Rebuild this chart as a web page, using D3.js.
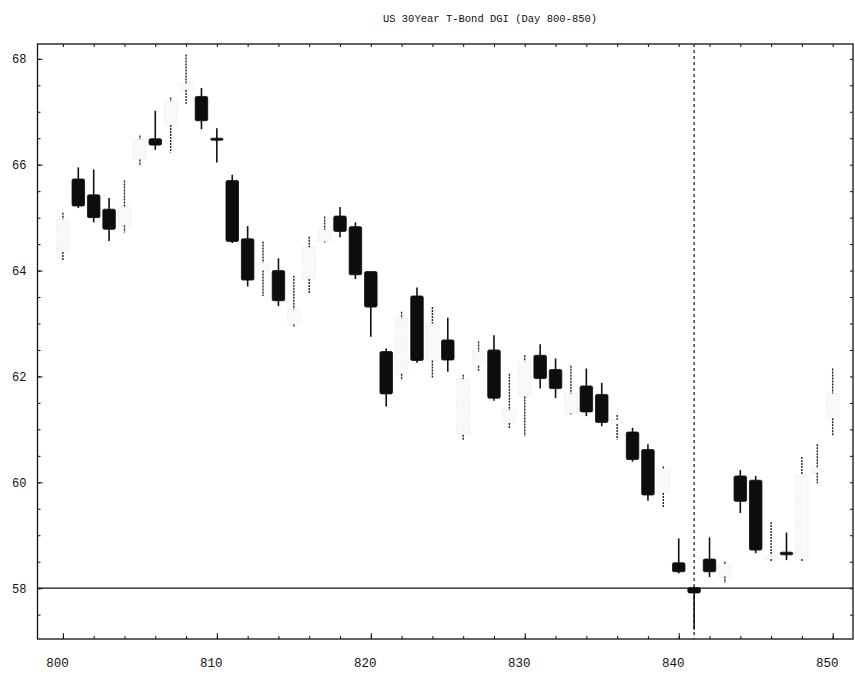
<!DOCTYPE html>
<html>
<head>
<meta charset="utf-8">
<script src="https://cdn.jsdelivr.net/npm/d3@7"></script>
<style>
  html, body { margin: 0; padding: 0; background: #fff; }
  svg { display: block; }
  text { font-family: "Liberation Mono", "DejaVu Sans Mono", monospace; fill: #111; }
</style>
</head>
<body>
<svg id="chart" width="855" height="676"></svg>
<script>
// ---- data ----
const title = "US 30Year T-Bond DGI (Day 800-850)";
const days = [800,801,802,803,804,805,806,807,808,809,810,811,812,813,814,815,816,817,818,819,
              820,821,822,823,824,825,826,827,828,829,830,831,832,833,834,835,836,837,838,839,
              840,841,842,843,844,845,846,847,848,849,850];
const opens  = [64.35,65.73,65.43,65.16,64.85,66.10,66.49,66.75,67.41,67.29,66.50,65.70,64.60,64.00,64.00,62.98,63.84,64.55,65.03,64.83,
                63.98,62.47,62.05,63.52,62.30,62.69,60.90,62.20,62.50,61.12,61.62,62.40,62.13,61.30,61.82,61.66,61.10,60.95,60.62,59.80,
                58.48,58.01,58.55,58.22,60.12,60.04,58.55,58.68,58.55,60.18,61.21];
const highs  = [65.09,65.95,65.91,65.37,65.70,66.55,67.02,67.27,68.08,67.45,66.69,65.81,64.84,64.55,64.23,63.90,64.64,65.02,65.20,64.91,
                63.98,62.53,63.22,63.68,63.31,63.11,62.03,62.66,62.78,62.05,62.40,62.61,62.34,62.20,62.15,61.88,61.27,61.03,60.72,60.30,
                58.94,58.03,58.96,58.50,60.23,60.12,59.25,59.05,60.48,60.72,62.15];
const lows   = [64.19,65.18,64.91,64.56,64.72,65.98,66.28,66.23,67.15,66.67,66.04,64.52,63.70,63.52,63.33,62.93,63.57,64.53,64.63,63.84,
                62.75,61.43,61.93,62.26,61.96,62.09,60.80,62.09,61.54,61.02,60.87,61.77,61.59,61.28,61.25,61.06,60.81,60.39,59.65,59.53,
                58.28,57.22,58.21,58.10,59.42,58.66,58.50,58.53,58.50,59.98,60.89];
const closes = [64.97,65.22,65.00,64.78,65.20,66.48,66.37,67.20,67.54,66.83,66.48,64.55,63.82,64.15,63.43,63.27,64.44,64.77,64.74,63.92,
                63.31,61.67,63.10,62.30,63.00,62.31,61.95,62.47,61.59,61.36,62.28,61.96,61.77,61.68,61.33,61.13,61.18,60.43,59.76,60.25,
                58.31,57.91,58.31,58.45,59.64,58.72,58.62,58.63,60.14,60.26,61.68];
const xTickLabels = [800, 810, 820, 830, 840, 850];
const yTickLabels = [58, 60, 62, 64, 66, 68];
const refLevel = 58;     // horizontal reference line
const refDay = 841;      // dashed vertical marker

// ---- layout ----
const svg = d3.select("#chart");
const pL = 37.5, pR = 853, pT = 44, pB = 639;
const x = d3.scaleLinear().domain([798.35, 851.32]).range([pL, pR]);
const y = d3.scaleLinear().domain([57.04, 68.28]).range([pB, pT]);
const bodyW = 12.5;

// title
svg.append("text").attr("x", 490).attr("y", 22).attr("text-anchor", "middle")
  .style("font-size", "10.5px").text(title);

// frame
svg.append("rect").attr("x", pL).attr("y", pT).attr("width", pR - pL).attr("height", pB - pT)
  .attr("fill", "none").attr("stroke", "#111").attr("stroke-width", 1.3);

// axes ticks (inside)
const minorX = d3.range(800, 851, 2);
const minorY = d3.range(57.5, 68.01, 0.5);
function clean(g) { g.select(".domain").remove(); g.selectAll("line").attr("stroke", "#111"); }
svg.append("g").attr("transform", `translate(0,${pB})`)
  .call(d3.axisBottom(x).tickValues(minorX).tickSize(-3).tickFormat("")).call(clean);
svg.append("g").attr("transform", `translate(0,${pT})`)
  .call(d3.axisTop(x).tickValues(minorX).tickSize(-3).tickFormat("")).call(clean);
svg.append("g").attr("transform", `translate(${pL},0)`)
  .call(d3.axisLeft(y).tickValues(minorY).tickSize(-3).tickFormat("")).call(clean);
svg.append("g").attr("transform", `translate(${pR},0)`)
  .call(d3.axisRight(y).tickValues(minorY).tickSize(-3).tickFormat("")).call(clean);
// major ticks + labels
const gxb = svg.append("g").attr("transform", `translate(0,${pB})`)
  .call(d3.axisBottom(x).tickValues(xTickLabels).tickSize(-6).tickPadding(19).tickFormat(d3.format("d")));
gxb.select(".domain").remove();
gxb.selectAll("line").attr("stroke", "#111");
gxb.selectAll("text").attr("dx", -6).style("font-size", "12.5px").style("font-family", "Liberation Mono, monospace");
const gyl = svg.append("g").attr("transform", `translate(${pL},0)`)
  .call(d3.axisLeft(y).tickValues(yTickLabels).tickSize(-5).tickPadding(11).tickFormat(d3.format("d")));
gyl.select(".domain").remove();
gyl.selectAll("line").attr("stroke", "#111");
gyl.selectAll("text").style("font-size", "12px").style("font-family", "Liberation Mono, monospace");

// reference lines
svg.append("line").attr("x1", pL).attr("x2", pR).attr("y1", y(refLevel)).attr("y2", y(refLevel))
  .attr("stroke", "#111").attr("stroke-width", 1.2);
svg.append("line").attr("x1", x(refDay)).attr("x2", x(refDay)).attr("y1", pT).attr("y2", pB)
  .attr("stroke", "#111").attr("stroke-width", 1.2).attr("stroke-dasharray", "3,3");

// candles
const data = days.map((d, i) => ({ d, o: opens[i], h: highs[i], l: lows[i], c: closes[i] }));
const g = svg.append("g");
data.forEach(k => {
  const cx = x(k.d);
  const up = k.c >= k.o;
  const yTop = y(Math.max(k.o, k.c)), yBot = y(Math.min(k.o, k.c));
  if (up) {
    g.append("rect").attr("x", cx - bodyW / 2).attr("y", yTop).attr("width", bodyW)
      .attr("height", Math.max(1, yBot - yTop))
      .attr("fill", "#f9f9f9").attr("stroke", "#e2e2e2").attr("stroke-width", 1)
      .attr("stroke-dasharray", "1,2");
    g.append("line").attr("x1", cx).attr("x2", cx).attr("y1", y(k.h)).attr("y2", yTop)
      .attr("stroke", "#222").attr("stroke-width", 1.4).attr("stroke-dasharray", "2,1");
    g.append("line").attr("x1", cx).attr("x2", cx).attr("y1", yBot).attr("y2", y(k.l))
      .attr("stroke", "#222").attr("stroke-width", 1.4).attr("stroke-dasharray", "2,1");
  } else {
    g.append("line").attr("x1", cx).attr("x2", cx).attr("y1", y(k.h)).attr("y2", y(k.l))
      .attr("stroke", "#111").attr("stroke-width", 1.6);
    g.append("rect").attr("x", cx - bodyW / 2).attr("y", yTop).attr("width", bodyW)
      .attr("height", Math.max(2, yBot - yTop)).attr("rx", 1.5)
      .attr("fill", "#0d0d0d").attr("stroke", "#0d0d0d").attr("stroke-width", 0.8);
  }
});
</script>
</body>
</html>
